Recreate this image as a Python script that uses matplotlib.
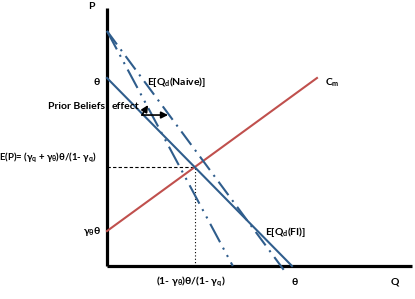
import numpy as np
import matplotlib
matplotlib.use('Agg')
import matplotlib.pyplot as plt

plt.rcParams['mathtext.fontset'] = 'custom'
plt.rcParams['mathtext.rm'] = 'Lato:bold'
plt.rcParams['mathtext.it'] = 'Lato:bold'
plt.rcParams['mathtext.bf'] = 'Lato:bold'
plt.rcParams['font.family'] = ['Lato', 'DejaVu Sans']
plt.rcParams['font.weight'] = 'bold'

# --- данни (единици: theta = 1) ---
fi_q = [0.0, 1.0]            # E[Qd(FI)]
fi_p = [1.0, 0.0]
naive1_q = [0.0, 0.68]       # стръмна пунктирна
naive1_p = [1.25, 0.0]
naive2_q = [0.0, 0.955]      # по-полегата пунктирна
naive2_p = [1.25, -0.02]
cm_q = [0.0, 1.135]          # Cm
cm_p = [0.186, 1.0]
q_max, p_max = 1.65, 1.372
arrow_start = (0.189, 0.803)
arrow_ends = [(0.33, 0.803), (0.222, 0.856)]

BLUE = '#2f5d8c'
RED = '#c0504d'

# пресечна точка FI и Cm
s_fi = (fi_p[1] - fi_p[0]) / (fi_q[1] - fi_q[0])
s_cm = (cm_p[1] - cm_p[0]) / (cm_q[1] - cm_q[0])
eq_q = (cm_p[0] - fi_p[0]) / (s_fi - s_cm)
eq_p = fi_p[0] + s_fi * eq_q

fig = plt.figure(figsize=(4.15, 2.99), dpi=100, facecolor='white')
ax = fig.add_axes([0, 0, 1, 1])
ax.set_xlim(-107 / 185, 308 / 185)
ax.set_ylim(-33 / 188, 266 / 188)
ax.axis('off')

# оси
ax.plot([0, 0], [0, p_max], color='black', lw=2.3, solid_capstyle='butt')
ax.plot([0, q_max], [0, 0], color='black', lw=2.3, solid_capstyle='butt')

# помощни линии
ax.plot([0, eq_q], [eq_p, eq_p], color='black', lw=0.8, ls=(0, (3, 2)))
ax.plot([eq_q, eq_q], [0, eq_p], color='black', lw=0.8, ls=(0, (1, 2)))

ax.plot(cm_q, cm_p, color=RED, lw=1.5)
ax.plot(fi_q, fi_p, color=BLUE, lw=1.5)
ax.plot(naive1_q, naive1_p, color=BLUE, lw=1.5, ls=(0, (10, 3, 1, 3, 1, 3)))
ax.plot(naive2_q, naive2_p, color=BLUE, lw=1.5, ls=(0, (8, 3, 1, 3)))

for end in arrow_ends:
    ax.annotate('', xy=end, xytext=arrow_start,
                arrowprops=dict(arrowstyle='-|>', color='black', lw=1.2,
                                mutation_scale=10, shrinkA=0, shrinkB=0))

fs = 7.5
ax.text(-0.087, 1.378, 'P', fontsize=fs, ha='center', va='center')
ax.text(-0.035, 0.979, r'$\theta$', fontsize=fs, ha='right', va='center')
ax.text(-0.03, 0.181, r'$\gamma_\theta\theta$', fontsize=fs, ha='right', va='center')
ax.text(-0.054, 0.574, r'E(P)= ($\gamma_q$ + $\gamma_\theta$)$\theta$/(1- $\gamma_q$)',
        fontsize=6.9, ha='right', va='center')
ax.text(-0.01, 0.846, 'Prior Beliefs', fontsize=fs, ha='right', va='center')
ax.text(0.027, 0.846, 'effect', fontsize=fs, ha='left', va='center')
ax.text(0.216, 0.979, r'E[Q$_d$(Naive)]', fontsize=fs, ha='left', va='center')
ax.text(1.18, 0.973, r'C$_m$', fontsize=fs, ha='left', va='center')
ax.text(0.854, 0.181, r'E[Q$_d$(FI)]', fontsize=fs, ha='left', va='center')
ax.text(eq_q - 0.02, -0.085, r'(1- $\gamma_\theta$)$\theta$/(1- $\gamma_q$)',
        fontsize=fs, ha='center', va='center')
ax.text(1.016, -0.085, r'$\theta$', fontsize=fs, ha='center', va='center')
ax.text(1.557, -0.085, 'Q', fontsize=fs, ha='center', va='center')

fig.savefig('out.png', dpi=100, facecolor='white')
